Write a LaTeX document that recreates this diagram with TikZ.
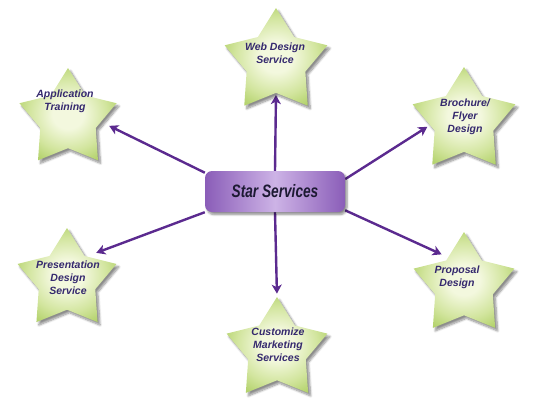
\documentclass[tikz,border=0pt]{standalone}
\usepackage{graphicx}
\usepackage{fontspec}
\setmainfont{Liberation Sans}
\usetikzlibrary{shapes.geometric,arrows.meta,shadows.blur,backgrounds}
\definecolor{arrowc}{HTML}{5B2A8F}
\definecolor{txtc}{HTML}{35296E}
\definecolor{starin}{HTML}{F3F8DE}
\definecolor{starmid}{HTML}{D2E59E}
\definecolor{starsat}{HTML}{A6CA56}
\definecolor{starout}{HTML}{8AB53C}
\definecolor{boxedge}{HTML}{8A5DB8}
\definecolor{boxmid}{HTML}{CDB3E6}
\definecolor{boxtxt}{HTML}{1D1A33}
\pgfdeclareradialshading{starshade}{\pgfpoint{0bp}{0bp}}{%
  color(0bp)=(starin); color(8bp)=(starin); color(20bp)=(starmid); color(32bp)=(starsat); color(50bp)=(starout)}
\begin{document}
\begin{tikzpicture}[x=1pt,y=-1pt,
  starbox/.style={star, star points=5, star point ratio=1.75, inner sep=0pt,
    shading=starshade,
    blur shadow={shadow xshift=2.5pt, shadow yshift=-3pt, shadow opacity=45, shadow blur steps=8}},
  startext/.style={align=center, text=txtc, inner sep=0pt,
    font=\fontsize{10.5}{13}\selectfont\bfseries\itshape},
  arr/.style={draw=arrowc, line width=2.4pt, -{Stealth[length=9pt,width=10pt,inset=2.5pt]}},
  mainbox/.style={rounded corners=7pt, minimum width=140pt, minimum height=41pt, inner sep=0pt,
    left color=boxedge, right color=boxedge, middle color=boxmid,
    blur shadow={shadow xshift=2pt, shadow yshift=-2.5pt, shadow opacity=45, shadow blur steps=6}},
]
\useasboundingbox (0,0) rectangle (539,400);

% stars
\node[starbox, minimum size=108pt] (web) at (276,62) {};
\node[starbox, minimum size=102pt] (app) at (68,119) {};
\node[starbox, minimum size=108pt] (bro) at (464,121) {};
\node[starbox, minimum size=106pt] (pro) at (464,285) {};
\node[starbox, minimum size=106pt] (cus) at (277,350) {};
\node[starbox, minimum size=104pt] (pre) at (67,280) {};

% star texts
\node[startext] (webt) at (275,53) {Web Design\\Service};
\node[startext] (appt) at (65,101) {Application\\Training};
\node[startext] (brot) at (465,117) {Brochure/\\Flyer\\Design};
\node[startext] (prot) at (457,277) {Proposal\\Design};
\node[startext] (cust) at (278,345) {Customize\\Marketing\\Services};
\node[startext] (pret) at (68,278) {Presentation\\Design\\Service};

% central box
\node[mainbox] (box) at (275,191.5)
  {\fontsize{18}{20}\selectfont\bfseries\itshape\color{boxtxt}\scalebox{0.76}[1]{Star Services}};

% connectors
\begin{pgfonlayer}{background}
\draw[arr, shorten >=2pt] (box.north) -- (web.270);
\draw[arr, shorten >=3pt] (box.south) -- (cus.90);
\draw[arr, shorten >=9pt] (box.165) -- (app.355);
\draw[arr, shorten >=10pt] (box.south west) -- (pre.50);
\draw[arr, shorten >=3pt] (box.10) -- (bro.187);
\draw[arr, shorten >=7pt] (box.-15) -- (pro.120);
\end{pgfonlayer}
\end{tikzpicture}
\end{document}
